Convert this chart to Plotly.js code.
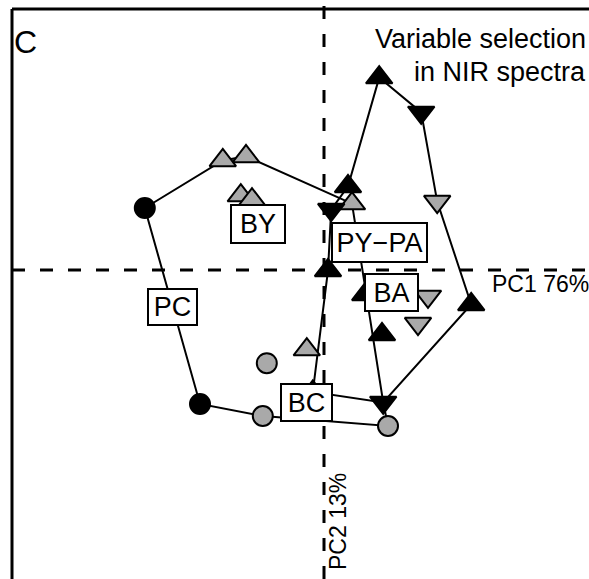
<!DOCTYPE html>
<html>
<head>
<meta charset="utf-8">
<script src="https://cdn.plot.ly/plotly-3.0.1.min.js"></script>
<style>html,body{margin:0;padding:0;background:#fff;}#chart{width:589px;height:579px;}</style>
</head>
<body>
<div id="chart"></div>
<script>
// PCA scores (PC1, PC2)
const pcX = [-4.48, -3.10];
const pcY = [1.55, -3.35];
const bcX = [-1.53, -1.43, 1.60];
const bcY = [-3.65, -2.33, -3.90];
const byX = [-2.53, -1.95, -2.08, -1.80, 0.70, -0.43];
const byY = [2.74, 2.84, 1.86, 1.76, 1.66, -1.99];
const baX = [1.38, 0.60, 0.10, 1.03, 1.45, 3.68, -0.28];
const baY = [4.81, 2.09, -0.01, -0.61, -1.61, -0.86, -3.05];
const pyX = [2.43, 0.18, 1.48];
const pyY = [3.94, 1.51, -3.31];
const paX = [2.83, 2.60, 2.35];
const paY = [1.71, -0.66, -1.34];

// hull outlines, as references to the points above
const hullA = [["PC",0],["BY",0],["BY",1],["BY",4],["PY",2],["BC",2],["BC",0],["PC",1],["PC",0]];
const hullB = [["BA",0],["PY",0],["PA",0],["BA",5],["PY",2],["BA",6],["BA",2],["PY",1],["BA",1],["BA",0]];

const groupLabels = ["BY", "PC", "PY\u2212PA", "BA", "BC"];
const axisLabels = ["PC1 76%", "PC2 13%"];
const panelLetter = "C";
const panelTitle = ["Variable selection", "in NIR spectra"];

const groups = {PC:[pcX,pcY], BC:[bcX,bcY], BY:[byX,byY], BA:[baX,baY], PY:[pyX,pyY], PA:[paX,paY]};
function hullXY(h){ return {x: h.map(r=>groups[r[0]][0][r[1]]), y: h.map(r=>groups[r[0]][1][r[1]])}; }

const FONT = "Liberation Sans, Arial, sans-serif";
const GRAY = "#a9a9a9";
const lineStyle = {color:"#000", width:2};

const traces = [];
[hullA, hullB].forEach(h => {
  const p = hullXY(h);
  traces.push({x:p.x, y:p.y, mode:"lines", line:lineStyle, hoverinfo:"skip", showlegend:false});
});
function pts(x, y, sym, fill, name, size){
  return {x:x, y:y, mode:"markers", name:name, showlegend:false,
    marker:{symbol:sym, size:size, color:fill, line:{color:"#000", width:2}}};
}
traces.push(pts(pcX, pcY, "circle", "#000", "PC", 20));
traces.push(pts(bcX, bcY, "circle", GRAY, "BC", 20));
traces.push(pts(byX, byY, "triangle-up", GRAY, "BY", 23));
traces.push(pts(paX, paY, "triangle-down", GRAY, "PA", 23));
traces.push(pts(baX, baY, "triangle-up", "#000", "BA", 23));
traces.push(pts(pyX, pyY, "triangle-down", "#000", "PY", 23));

// label box positions (PC units) and box sizes
const boxPos = [[-1.65, 1.15, 52, 36], [-3.79, -0.93, 47, 34], [1.39, 0.69, 93, 37], [1.69, -0.56, 51, 35], [-0.44, -3.31, 49, 35]];
const annotations = groupLabels.map((t, i) => ({
  x: boxPos[i][0], y: boxPos[i][1], xref:"x", yref:"y", text:t, showarrow:false,
  width: boxPos[i][2], height: boxPos[i][3],
  bgcolor:"#fff", bordercolor:"#000", borderwidth:2, borderpad:0,
  font:{family:FONT, size:27, color:"#000"}, xanchor:"center", yanchor:"middle"
}));
annotations.push({x:4.15, y:-0.35, xref:"x", yref:"y", text:axisLabels[0], showarrow:false,
  xanchor:"left", yanchor:"middle", font:{family:FONT, size:23, color:"#000"}});
annotations.push({x:0.35, y:-6.3, xref:"x", yref:"y", text:axisLabels[1], showarrow:false, textangle:-90,
  xanchor:"center", yanchor:"middle", font:{family:FONT, size:23, color:"#000"}});
annotations.push({x:0.0, y:0.942, xref:"paper", yref:"paper", text:panelLetter, showarrow:false,
  xanchor:"left", yanchor:"middle", font:{family:FONT, size:32, color:"#000"}});
annotations.push({x:0.998, y:0.948, xref:"paper", yref:"paper", text:panelTitle[0], showarrow:false,
  xanchor:"right", yanchor:"middle", font:{family:FONT, size:27, color:"#000"}});
annotations.push({x:0.998, y:0.889, xref:"paper", yref:"paper", text:panelTitle[1], showarrow:false,
  xanchor:"right", yanchor:"middle", font:{family:FONT, size:27, color:"#000"}});

const layout = {
  width:589, height:579,
  margin:{l:12, r:0, t:9, b:0, pad:0},
  paper_bgcolor:"#fff", plot_bgcolor:"#fff",
  xaxis:{range:[-7.8, 6.625], autorange:false, showgrid:false, zeroline:false, showticklabels:false, ticks:"", showline:false},
  yaxis:{range:[-7.725, 6.525], autorange:false, showgrid:false, zeroline:false, showticklabels:false, ticks:"", showline:false},
  shapes:[
    {type:"line", xref:"paper", yref:"y", x0:0, x1:1, y0:0, y1:0, layer:"below", line:{color:"#000", width:3, dash:"13px,15px"}},
    {type:"line", xref:"x", yref:"paper", x0:0, x1:0, y0:0, y1:1.007, layer:"below", line:{color:"#000", width:3, dash:"13px,15px"}},
    {type:"line", xref:"paper", yref:"paper", x0:0, x1:0, y0:0, y1:1, line:{color:"#000", width:3}},
    {type:"line", xref:"paper", yref:"paper", x0:0, x1:1, y0:1, y1:1, line:{color:"#000", width:3}}
  ],
  annotations:annotations,
  showlegend:false
};
Plotly.newPlot("chart", traces, layout, {staticPlot:true, displayModeBar:false});
</script>
</body>
</html>
